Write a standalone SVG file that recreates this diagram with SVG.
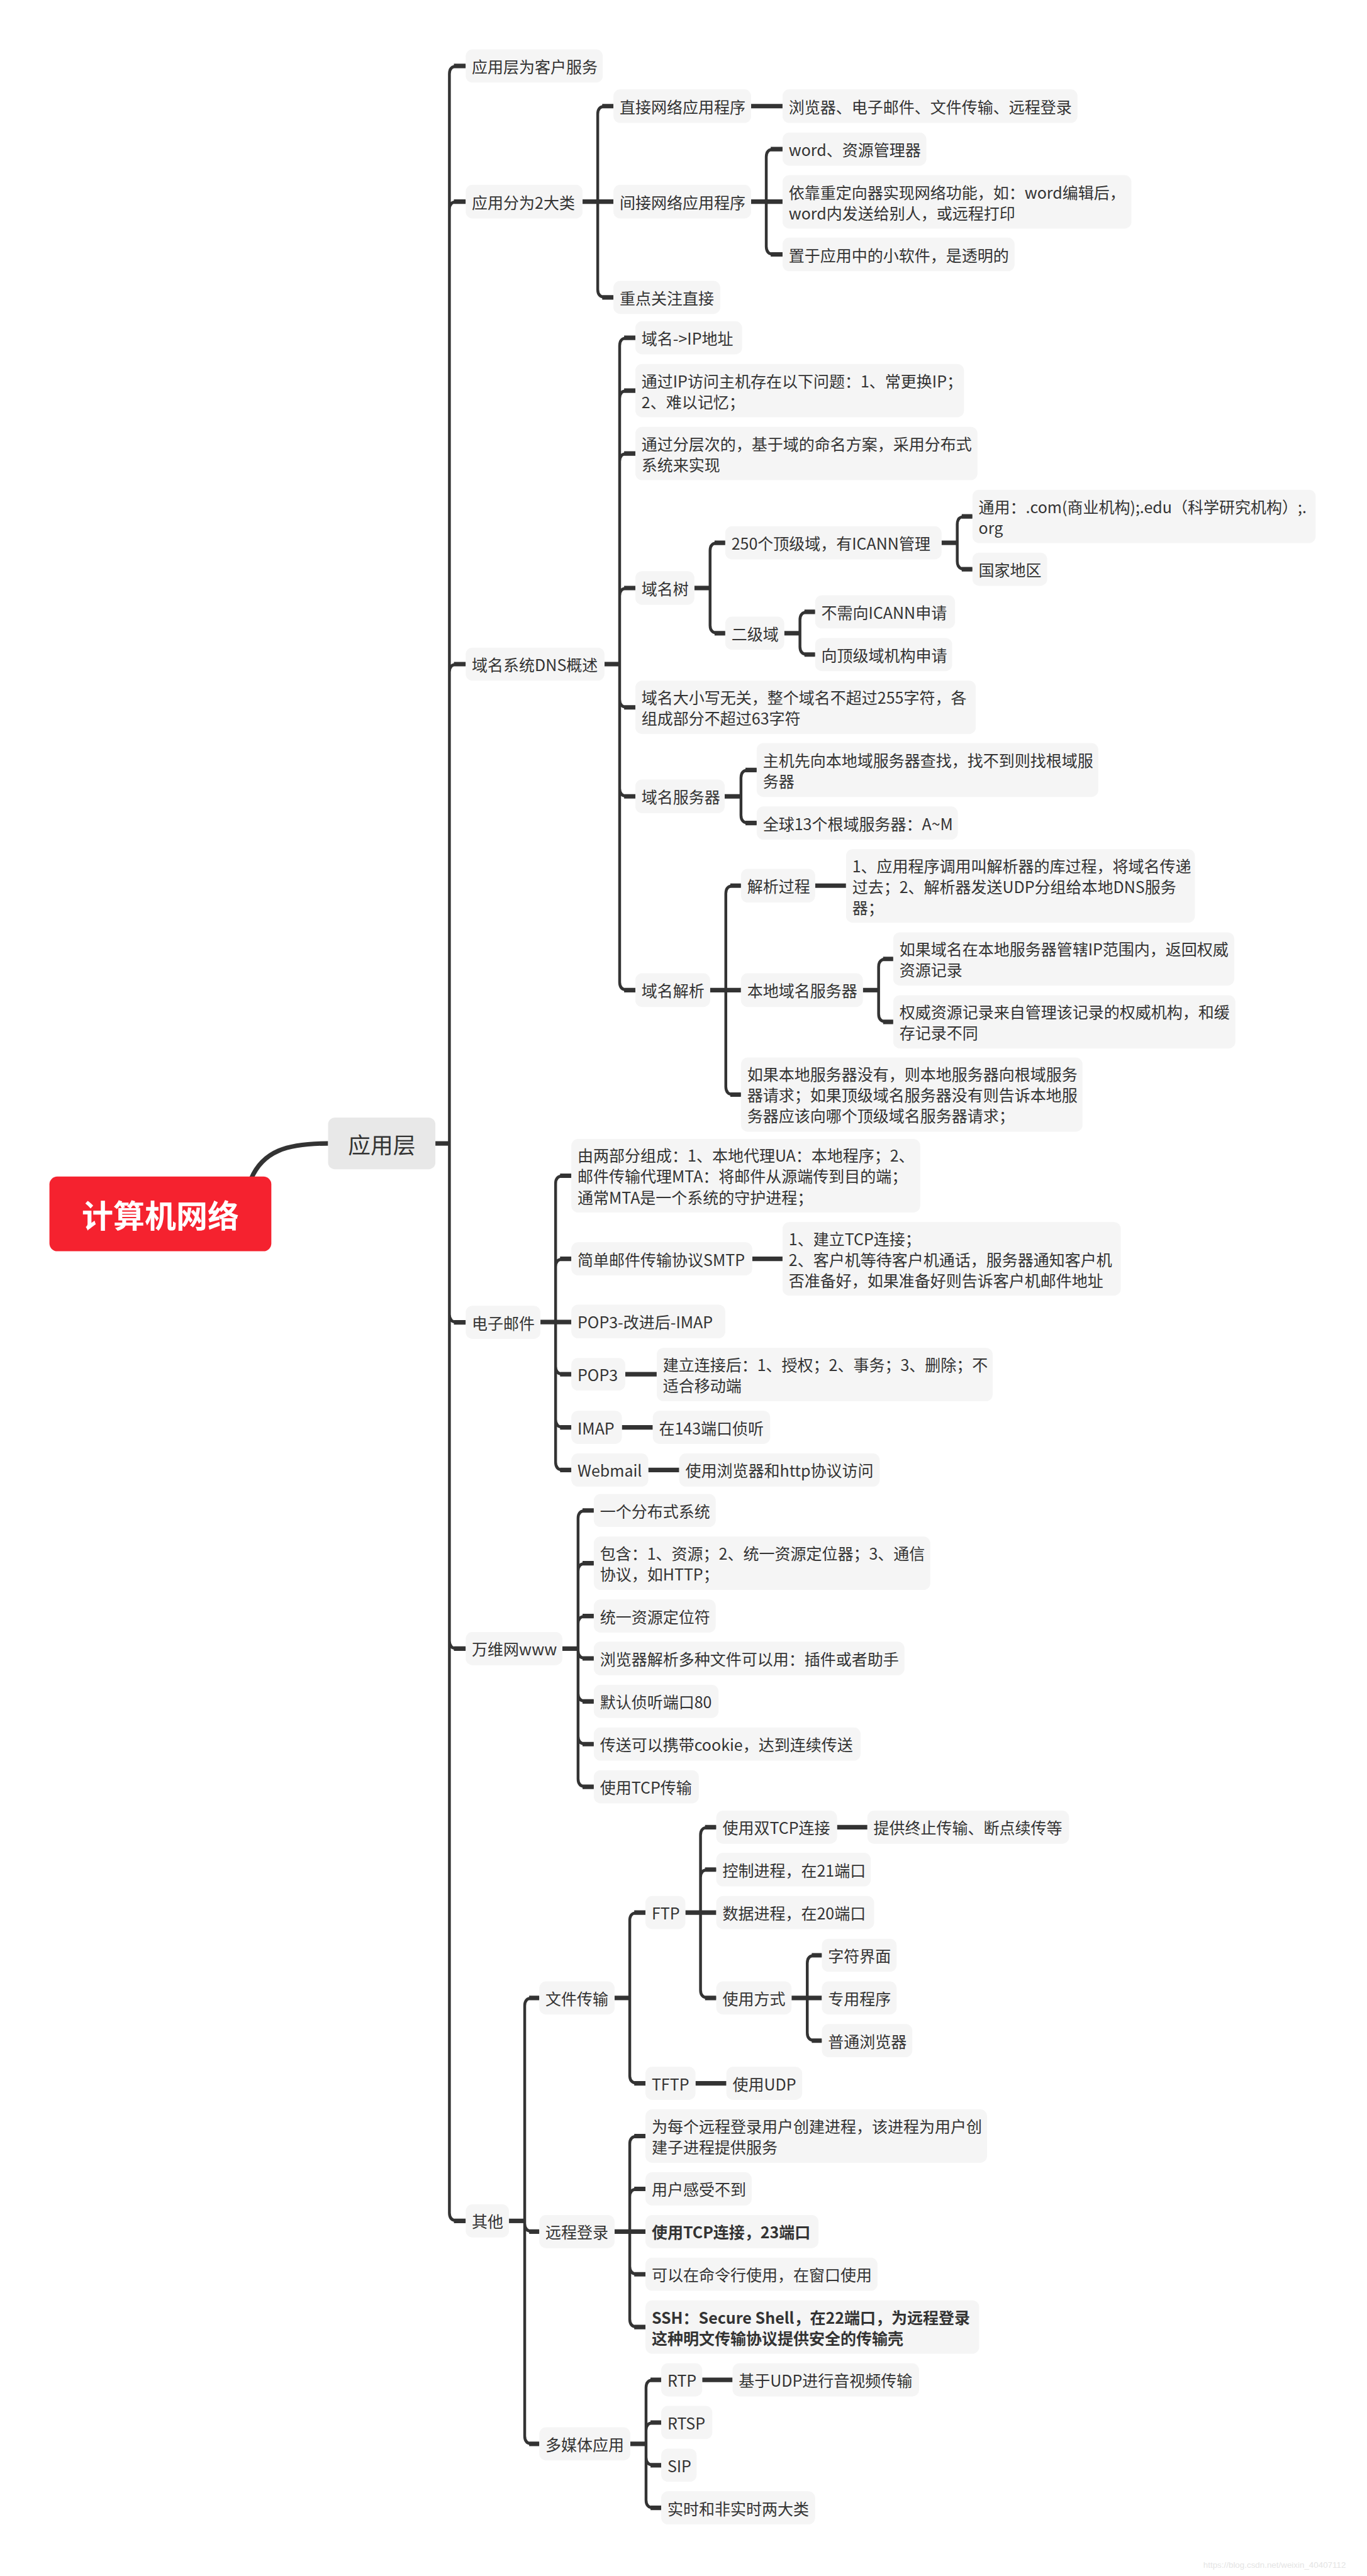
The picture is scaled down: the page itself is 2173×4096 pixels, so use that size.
<svg xmlns="http://www.w3.org/2000/svg" width="2173" height="4096" viewBox="0 0 2173 4096">
<style>
.n{fill:#f5f5f5}
.t{font-family:"Noto Sans CJK SC","Noto Sans",sans-serif;font-size:28px;fill:#333;dominant-baseline:central}
.b{font-weight:bold}
.c path{fill:none;stroke:#333;stroke-width:5;stroke-linecap:butt}
.c .s{stroke-width:8}
</style>
<rect width="2173" height="4096" fill="#fff"/>
<g transform="scale(0.893)">
<g id="connectors" class="c">
<path class="s" d="M447 2099 C468 2050 510 2036 584 2036"/>
<path class="s" d="M775 2036 H800"/>
<path d="M800 2036 V131.5 Q800 117.5 814 117.5 H829 M800 2036 V373 Q800 359 814 359 H829 M800 2036 V1196.5 Q800 1182.5 814 1182.5 H829 M800 2036 V2340.5 Q800 2354.5 814 2354.5 H829 M800 2036 V2921.5 Q800 2935.5 814 2935.5 H829 M800 2036 V3940.5 Q800 3954.5 814 3954.5 H829"/>
<path class="s" d="M808 117.5 H829 M808 359 H829 M808 1182.5 H829 M808 2354.5 H829 M808 2935.5 H829 M808 3954.5 H829"/>
<path class="s" d="M1037 359 H1092 M1337 189 H1393 M1337 359 H1393"/>
<path d="M1064 359 V203 Q1064 189 1078 189 H1092 M1064 359 V515.5 Q1064 529.5 1078 529.5 H1092"/>
<path class="s" d="M1072 189 H1092 M1072 529.5 H1092"/>
<path d="M1364 359 V279.5 Q1364 265.5 1378 265.5 H1393 M1364 359 V439 Q1364 453 1378 453 H1393"/>
<path class="s" d="M1372 265.5 H1393 M1372 453 H1393"/>
<path class="s" d="M1076 1182.5 H1103"/>
<path d="M1103 1182.5 V615.5 Q1103 601.5 1117 601.5 H1131 M1103 1182.5 V709.5 Q1103 695.5 1117 695.5 H1131 M1103 1182.5 V821.5 Q1103 807.5 1117 807.5 H1131 M1103 1182.5 V1061 Q1103 1047 1117 1047 H1131 M1103 1182.5 V1245.5 Q1103 1259.5 1117 1259.5 H1131 M1103 1182.5 V1404 Q1103 1418 1117 1418 H1131 M1103 1182.5 V1749 Q1103 1763 1117 1763 H1131"/>
<path class="s" d="M1111 601.5 H1131 M1111 695.5 H1131 M1111 807.5 H1131 M1111 1047 H1131 M1111 1259.5 H1131 M1111 1418 H1131 M1111 1763 H1131"/>
<path class="s" d="M1236 1047 H1264"/>
<path d="M1264 1047 V980.5 Q1264 966.5 1278 966.5 H1291 M1264 1047 V1113.5 Q1264 1127.5 1278 1127.5 H1291"/>
<path class="s" d="M1272 966.5 H1291 M1272 1127.5 H1291"/>
<path class="s" d="M1676 966.5 H1704"/>
<path d="M1704 966.5 V933.5 Q1704 919.5 1718 919.5 H1731 M1704 966.5 V999.5 Q1704 1013.5 1718 1013.5 H1731"/>
<path class="s" d="M1712 919.5 H1731 M1712 1013.5 H1731"/>
<path class="s" d="M1396 1127.5 H1424"/>
<path d="M1424 1127.5 V1103.5 Q1424 1089.5 1438 1089.5 H1451 M1424 1127.5 V1151.5 Q1424 1165.5 1438 1165.5 H1451"/>
<path class="s" d="M1432 1089.5 H1451 M1432 1165.5 H1451"/>
<path class="s" d="M1290 1418 H1319"/>
<path d="M1319 1418 V1385 Q1319 1371 1333 1371 H1347 M1319 1418 V1451.5 Q1319 1465.5 1333 1465.5 H1347"/>
<path class="s" d="M1327 1371 H1347 M1327 1465.5 H1347"/>
<path class="s" d="M1264 1763 H1319 M1451 1577 H1506"/>
<path d="M1292 1763 V1591 Q1292 1577 1306 1577 H1319 M1292 1763 V1935 Q1292 1949 1306 1949 H1319"/>
<path class="s" d="M1300 1577 H1319 M1300 1949 H1319"/>
<path class="s" d="M1536 1763 H1564"/>
<path d="M1564 1763 V1721.5 Q1564 1707.5 1578 1707.5 H1590 M1564 1763 V1805.5 Q1564 1819.5 1578 1819.5 H1590"/>
<path class="s" d="M1572 1707.5 H1590 M1572 1819.5 H1590"/>
<path class="s" d="M962 2354 H1017"/>
<path d="M989 2354 V2107.5 Q989 2093.5 1003 2093.5 H1017 M989 2354 V2255.5 Q989 2241.5 1003 2241.5 H1017 M989 2354 V2433 Q989 2447 1003 2447 H1017 M989 2354 V2527.5 Q989 2541.5 1003 2541.5 H1017 M989 2354 V2603.5 Q989 2617.5 1003 2617.5 H1017"/>
<path class="s" d="M997 2093.5 H1017 M997 2241.5 H1017 M997 2447 H1017 M997 2541.5 H1017 M997 2617.5 H1017"/>
<path class="s" d="M1339 2241.5 H1393 M1113 2447 H1169 M1107 2541.5 H1162 M1154 2617.5 H1209"/>
<path class="s" d="M1001 2935.5 H1029"/>
<path d="M1029 2935.5 V2703.5 Q1029 2689.5 1043 2689.5 H1057 M1029 2935.5 V2797.5 Q1029 2783.5 1043 2783.5 H1057 M1029 2935.5 V2891.5 Q1029 2877.5 1043 2877.5 H1057 M1029 2935.5 V2939 Q1029 2953 1043 2953 H1057 M1029 2935.5 V3015.5 Q1029 3029.5 1043 3029.5 H1057 M1029 2935.5 V3091.5 Q1029 3105.5 1043 3105.5 H1057 M1029 2935.5 V3167.5 Q1029 3181.5 1043 3181.5 H1057"/>
<path class="s" d="M1037 2689.5 H1057 M1037 2783.5 H1057 M1037 2877.5 H1057 M1037 2953 H1057 M1037 3029.5 H1057 M1037 3105.5 H1057 M1037 3181.5 H1057"/>
<path class="s" d="M906 3954.5 H934"/>
<path d="M934 3954.5 V3571.5 Q934 3557.5 948 3557.5 H960 M934 3954.5 V3959.5 Q934 3973.5 948 3973.5 H960 M934 3954.5 V4337.5 Q934 4351.5 948 4351.5 H960"/>
<path class="s" d="M942 3557.5 H960 M942 3973.5 H960 M942 4351.5 H960"/>
<path class="s" d="M1094 3557.5 H1121"/>
<path d="M1121 3557.5 V3419.5 Q1121 3405.5 1135 3405.5 H1149 M1121 3557.5 V3695.5 Q1121 3709.5 1135 3709.5 H1149"/>
<path class="s" d="M1129 3405.5 H1149 M1129 3709.5 H1149"/>
<path class="s" d="M1220 3405.5 H1275 M1490 3253.5 H1544 M1409 3557.5 H1463 M1238 3709.5 H1293"/>
<path d="M1247 3405.5 V3267.5 Q1247 3253.5 1261 3253.5 H1275 M1247 3405.5 V3343 Q1247 3329 1261 3329 H1275 M1247 3405.5 V3543.5 Q1247 3557.5 1261 3557.5 H1275"/>
<path class="s" d="M1255 3253.5 H1275 M1255 3329 H1275 M1255 3557.5 H1275"/>
<path d="M1437 3557.5 V3495.5 Q1437 3481.5 1451 3481.5 H1463 M1437 3557.5 V3619.5 Q1437 3633.5 1451 3633.5 H1463"/>
<path class="s" d="M1445 3481.5 H1463 M1445 3633.5 H1463"/>
<path class="s" d="M1094 3973.5 H1149"/>
<path d="M1121 3973.5 V3817.5 Q1121 3803.5 1135 3803.5 H1149 M1121 3973.5 V3911.5 Q1121 3897.5 1135 3897.5 H1149 M1121 3973.5 V4035.5 Q1121 4049.5 1135 4049.5 H1149 M1121 3973.5 V4129.5 Q1121 4143.5 1135 4143.5 H1149"/>
<path class="s" d="M1129 3803.5 H1149 M1129 3897.5 H1149 M1129 4049.5 H1149 M1129 4143.5 H1149"/>
<path class="s" d="M1122 4351.5 H1150 M1250 4237.5 H1304"/>
<path d="M1150 4351.5 V4251.5 Q1150 4237.5 1164 4237.5 H1177 M1150 4351.5 V4327.5 Q1150 4313.5 1164 4313.5 H1177 M1150 4351.5 V4375.5 Q1150 4389.5 1164 4389.5 H1177 M1150 4351.5 V4451.5 Q1150 4465.5 1164 4465.5 H1177"/>
<path class="s" d="M1158 4237.5 H1177 M1158 4313.5 H1177 M1158 4389.5 H1177 M1158 4465.5 H1177"/>
</g>

<g id="root"><rect x="88" y="2095" width="395" height="133" rx="14" fill="#f5222f"/><text x="285.5" y="2161.5" text-anchor="middle" dominant-baseline="central" font-family="Noto Sans CJK SC, sans-serif" font-size="56" font-weight="bold" fill="#fff">计算机网络</text></g>
<g id="app"><rect x="584" y="1990" width="191" height="92" rx="12" fill="#e8e8e8"/><text x="679.5" y="2036" text-anchor="middle" dominant-baseline="central" font-family="Noto Sans CJK SC, sans-serif" font-size="40" fill="#333">应用层</text></g>

<g id="n1"><rect class="n" x="829" y="88" width="244" height="59" rx="12"/><text class="t" x="840" y="117.5">应用层为客户服务</text></g>
<g id="n2"><rect class="n" x="829" y="329" width="208" height="60" rx="12"/><text class="t" x="840" y="359">应用分为2大类</text></g>
<g id="n2a"><rect class="n" x="1092" y="159" width="245" height="60" rx="12"/><text class="t" x="1103" y="189">直接网络应用程序</text></g>
<g id="n2a1"><rect class="n" x="1393" y="159" width="525" height="60" rx="12"/><text class="t" x="1404" y="189">浏览器、电子邮件、文件传输、远程登录</text></g>
<g id="n2b"><rect class="n" x="1092" y="329" width="245" height="60" rx="12"/><text class="t" x="1103" y="359">间接网络应用程序</text></g>
<g id="n2b1"><rect class="n" x="1393" y="236" width="256" height="59" rx="12"/><text class="t" x="1404" y="265.5">word、资源管理器</text></g>
<g id="n2b2"><rect class="n" x="1393" y="312" width="621" height="95" rx="12"/><text class="t"><tspan x="1404" y="341">依靠重定向器实现网络功能，如：word编辑后，</tspan><tspan x="1404" y="378">word内发送给别人，或远程打印</tspan></text></g>
<g id="n2b3"><rect class="n" x="1393" y="423" width="413" height="60" rx="12"/><text class="t" x="1404" y="453">置于应用中的小软件，是透明的</text></g>
<g id="n2c"><rect class="n" x="1092" y="500" width="190" height="59" rx="12"/><text class="t" x="1103" y="529.5">重点关注直接</text></g>

<g id="n3"><rect class="n" x="829" y="1153" width="247" height="59" rx="12"/><text class="t" x="840" y="1182.5">域名系统DNS概述</text></g>
<g id="n3a"><rect class="n" x="1131" y="572" width="190" height="59" rx="12"/><text class="t" x="1142" y="601.5">域名-&gt;IP地址</text></g>
<g id="n3b"><rect class="n" x="1131" y="648" width="585" height="95" rx="12"/><text class="t"><tspan x="1142" y="677">通过IP访问主机存在以下问题：1、常更换IP；</tspan><tspan x="1142" y="714">2、难以记忆；</tspan></text></g>
<g id="n3c"><rect class="n" x="1131" y="760" width="609" height="95" rx="12"/><text class="t"><tspan x="1142" y="789">通过分层次的，基于域的命名方案，采用分布式</tspan><tspan x="1142" y="826">系统来实现</tspan></text></g>
<g id="n3d"><rect class="n" x="1131" y="1017" width="105" height="60" rx="12"/><text class="t" x="1142" y="1047">域名树</text></g>
<g id="n3d1"><rect class="n" x="1291" y="937" width="385" height="59" rx="12"/><text class="t" x="1302" y="966.5">250个顶级域，有ICANN管理</text></g>
<g id="n3d1a"><rect class="n" x="1731" y="872" width="611" height="95" rx="12"/><text class="t"><tspan x="1742" y="901">通用：.com(商业机构);.edu（科学研究机构）;.</tspan><tspan x="1742" y="938">org</tspan></text></g>
<g id="n3d1b"><rect class="n" x="1731" y="984" width="133" height="59" rx="12"/><text class="t" x="1742" y="1013.5">国家地区</text></g>
<g id="n3d2"><rect class="n" x="1291" y="1098" width="105" height="59" rx="12"/><text class="t" x="1302" y="1127.5">二级域</text></g>
<g id="n3d2a"><rect class="n" x="1451" y="1060" width="249" height="59" rx="12"/><text class="t" x="1462" y="1089.5">不需向ICANN申请</text></g>
<g id="n3d2b"><rect class="n" x="1451" y="1136" width="244" height="59" rx="12"/><text class="t" x="1462" y="1165.5">向顶级域机构申请</text></g>
<g id="n3e"><rect class="n" x="1131" y="1212" width="606" height="95" rx="12"/><text class="t"><tspan x="1142" y="1241">域名大小写无关，整个域名不超过255字符，各</tspan><tspan x="1142" y="1278">组成部分不超过63字符</tspan></text></g>
<g id="n3f"><rect class="n" x="1131" y="1388" width="159" height="60" rx="12"/><text class="t" x="1142" y="1418">域名服务器</text></g>
<g id="n3f1"><rect class="n" x="1347" y="1323" width="608" height="96" rx="12"/><text class="t"><tspan x="1358" y="1352.5">主机先向本地域服务器查找，找不到则找根域服</tspan><tspan x="1358" y="1389.5">务器</tspan></text></g>
<g id="n3f2"><rect class="n" x="1347" y="1436" width="358" height="59" rx="12"/><text class="t" x="1358" y="1465.5">全球13个根域服务器：A~M</text></g>
<g id="n3g"><rect class="n" x="1131" y="1733" width="133" height="60" rx="12"/><text class="t" x="1142" y="1763">域名解析</text></g>
<g id="n3g1"><rect class="n" x="1319" y="1547" width="132" height="60" rx="12"/><text class="t" x="1330" y="1577">解析过程</text></g>
<g id="n3g1a"><rect class="n" x="1506" y="1512" width="621" height="131" rx="12"/><text class="t"><tspan x="1517" y="1540.5">1、应用程序调用叫解析器的库过程，将域名传递</tspan><tspan x="1517" y="1577.5">过去；2、解析器发送UDP分组给本地DNS服务</tspan><tspan x="1517" y="1614.5">器；</tspan></text></g>
<g id="n3g2"><rect class="n" x="1319" y="1733" width="217" height="60" rx="12"/><text class="t" x="1330" y="1763">本地域名服务器</text></g>
<g id="n3g2a"><rect class="n" x="1590" y="1660" width="607" height="95" rx="12"/><text class="t"><tspan x="1601" y="1689">如果域名在本地服务器管辖IP范围内，返回权威</tspan><tspan x="1601" y="1726">资源记录</tspan></text></g>
<g id="n3g2b"><rect class="n" x="1590" y="1772" width="609" height="95" rx="12"/><text class="t"><tspan x="1601" y="1801">权威资源记录来自管理该记录的权威机构，和缓</tspan><tspan x="1601" y="1838">存记录不同</tspan></text></g>
<g id="n3g3"><rect class="n" x="1319" y="1883" width="608" height="132" rx="12"/><text class="t"><tspan x="1330" y="1912">如果本地服务器没有，则本地服务器向根域服务</tspan><tspan x="1330" y="1949">器请求；如果顶级域名服务器没有则告诉本地服</tspan><tspan x="1330" y="1986">务器应该向哪个顶级域名服务器请求；</tspan></text></g>

<g id="n4"><rect class="n" x="829" y="2325" width="133" height="59" rx="12"/><text class="t" x="840" y="2354.5">电子邮件</text></g>
<g id="n4a"><rect class="n" x="1017" y="2028" width="621" height="131" rx="12"/><text class="t"><tspan x="1028" y="2056.5">由两部分组成：1、本地代理UA：本地程序；2、</tspan><tspan x="1028" y="2093.5">邮件传输代理MTA：将邮件从源端传到目的端；</tspan><tspan x="1028" y="2130.5">通常MTA是一个系统的守护进程；</tspan></text></g>
<g id="n4b"><rect class="n" x="1017" y="2212" width="322" height="59" rx="12"/><text class="t" x="1028" y="2241.5">简单邮件传输协议SMTP</text></g>
<g id="n4b1"><rect class="n" x="1393" y="2176" width="602" height="131" rx="12"/><text class="t"><tspan x="1404" y="2204.5">1、建立TCP连接；</tspan><tspan x="1404" y="2241.5">2、客户机等待客户机通话，服务器通知客户机</tspan><tspan x="1404" y="2278.5">否准备好，如果准备好则告诉客户机邮件地址</tspan></text></g>
<g id="n4c"><rect class="n" x="1017" y="2323" width="274" height="60" rx="12"/><text class="t" x="1028" y="2353">POP3-改进后-IMAP</text></g>
<g id="n4d"><rect class="n" x="1017" y="2418" width="96" height="58" rx="12"/><text class="t" x="1028" y="2447">POP3</text></g>
<g id="n4d1"><rect class="n" x="1169" y="2400" width="598" height="95" rx="12"/><text class="t"><tspan x="1180" y="2429">建立连接后：1、授权；2、事务；3、删除；不</tspan><tspan x="1180" y="2466">适合移动端</tspan></text></g>
<g id="n4e"><rect class="n" x="1017" y="2512" width="90" height="59" rx="12"/><text class="t" x="1028" y="2541.5">IMAP</text></g>
<g id="n4e1"><rect class="n" x="1162" y="2512" width="209" height="59" rx="12"/><text class="t" x="1173" y="2541.5">在143端口侦听</text></g>
<g id="n4f"><rect class="n" x="1017" y="2588" width="137" height="59" rx="12"/><text class="t" x="1028" y="2617.5">Webmail</text></g>
<g id="n4f1"><rect class="n" x="1209" y="2588" width="357" height="59" rx="12"/><text class="t" x="1220" y="2617.5">使用浏览器和http协议访问</text></g>

<g id="n5"><rect class="n" x="829" y="2906" width="172" height="59" rx="12"/><text class="t" x="840" y="2935.5">万维网www</text></g>
<g id="n5a"><rect class="n" x="1057" y="2660" width="217" height="59" rx="12"/><text class="t" x="1068" y="2689.5">一个分布式系统</text></g>
<g id="n5b"><rect class="n" x="1057" y="2736" width="599" height="95" rx="12"/><text class="t"><tspan x="1068" y="2765">包含：1、资源；2、统一资源定位器；3、通信</tspan><tspan x="1068" y="2802">协议，如HTTP；</tspan></text></g>
<g id="n5c"><rect class="n" x="1057" y="2848" width="217" height="59" rx="12"/><text class="t" x="1068" y="2877.5">统一资源定位符</text></g>
<g id="n5d"><rect class="n" x="1057" y="2923" width="553" height="60" rx="12"/><text class="t" x="1068" y="2953">浏览器解析多种文件可以用：插件或者助手</text></g>
<g id="n5e"><rect class="n" x="1057" y="3000" width="222" height="59" rx="12"/><text class="t" x="1068" y="3029.5">默认侦听端口80</text></g>
<g id="n5f"><rect class="n" x="1057" y="3076" width="475" height="59" rx="12"/><text class="t" x="1068" y="3105.5">传送可以携带cookie，达到连续传送</text></g>
<g id="n5g"><rect class="n" x="1057" y="3152" width="187" height="59" rx="12"/><text class="t" x="1068" y="3181.5">使用TCP传输</text></g>

<g id="n6"><rect class="n" x="829" y="3925" width="77" height="59" rx="12"/><text class="t" x="840" y="3954.5">其他</text></g>
<g id="n6a"><rect class="n" x="960" y="3528" width="134" height="59" rx="12"/><text class="t" x="971" y="3557.5">文件传输</text></g>
<g id="n6a1"><rect class="n" x="1149" y="3376" width="71" height="59" rx="12"/><text class="t" x="1160" y="3405.5">FTP</text></g>
<g id="n6a1a"><rect class="n" x="1275" y="3224" width="215" height="59" rx="12"/><text class="t" x="1286" y="3253.5">使用双TCP连接</text></g>
<g id="n6a1a1"><rect class="n" x="1544" y="3224" width="359" height="59" rx="12"/><text class="t" x="1555" y="3253.5">提供终止传输、断点续传等</text></g>
<g id="n6a1b"><rect class="n" x="1275" y="3299" width="275" height="60" rx="12"/><text class="t" x="1286" y="3329">控制进程，在21端口</text></g>
<g id="n6a1c"><rect class="n" x="1275" y="3376" width="281" height="59" rx="12"/><text class="t" x="1286" y="3405.5">数据进程，在20端口</text></g>
<g id="n6a1d"><rect class="n" x="1275" y="3528" width="134" height="59" rx="12"/><text class="t" x="1286" y="3557.5">使用方式</text></g>
<g id="n6a1d1"><rect class="n" x="1463" y="3452" width="133" height="59" rx="12"/><text class="t" x="1474" y="3481.5">字符界面</text></g>
<g id="n6a1d2"><rect class="n" x="1463" y="3528" width="133" height="59" rx="12"/><text class="t" x="1474" y="3557.5">专用程序</text></g>
<g id="n6a1d3"><rect class="n" x="1463" y="3604" width="161" height="59" rx="12"/><text class="t" x="1474" y="3633.5">普通浏览器</text></g>
<g id="n6a2"><rect class="n" x="1149" y="3680" width="89" height="59" rx="12"/><text class="t" x="1160" y="3709.5">TFTP</text></g>
<g id="n6a2a"><rect class="n" x="1293" y="3680" width="135" height="59" rx="12"/><text class="t" x="1304" y="3709.5">使用UDP</text></g>
<g id="n6b"><rect class="n" x="960" y="3944" width="134" height="59" rx="12"/><text class="t" x="971" y="3973.5">远程登录</text></g>
<g id="n6b1"><rect class="n" x="1149" y="3756" width="608" height="95" rx="12"/><text class="t"><tspan x="1160" y="3785">为每个远程登录用户创建进程，该进程为用户创</tspan><tspan x="1160" y="3822">建子进程提供服务</tspan></text></g>
<g id="n6b2"><rect class="n" x="1149" y="3868" width="189" height="59" rx="12"/><text class="t" x="1160" y="3897.5">用户感受不到</text></g>
<g id="n6b3"><rect class="n" x="1149" y="3944" width="308" height="59" rx="12"/><text class="t b" x="1160" y="3973.5">使用TCP连接，23端口</text></g>
<g id="n6b4"><rect class="n" x="1149" y="4020" width="413" height="59" rx="12"/><text class="t" x="1160" y="4049.5">可以在命令行使用，在窗口使用</text></g>
<g id="n6b5"><rect class="n" x="1149" y="4096" width="594" height="95" rx="12"/><text class="t b"><tspan x="1160" y="4125">SSH：Secure Shell，在22端口，为远程登录</tspan><tspan x="1160" y="4162">这种明文传输协议提供安全的传输壳</tspan></text></g>
<g id="n6c"><rect class="n" x="960" y="4322" width="162" height="59" rx="12"/><text class="t" x="971" y="4351.5">多媒体应用</text></g>
<g id="n6c1"><rect class="n" x="1177" y="4208" width="73" height="59" rx="12"/><text class="t" x="1188" y="4237.5">RTP</text></g>
<g id="n6c1a"><rect class="n" x="1304" y="4208" width="332" height="59" rx="12"/><text class="t" x="1315" y="4237.5">基于UDP进行音视频传输</text></g>
<g id="n6c2"><rect class="n" x="1177" y="4284" width="91" height="59" rx="12"/><text class="t" x="1188" y="4313.5">RTSP</text></g>
<g id="n6c3"><rect class="n" x="1177" y="4360" width="63" height="59" rx="12"/><text class="t" x="1188" y="4389.5">SIP</text></g>
<g id="n6c4"><rect class="n" x="1177" y="4436" width="274" height="59" rx="12"/><text class="t" x="1188" y="4465.5">实时和非实时两大类</text></g>

<text x="2142" y="4572" font-family="Liberation Sans, sans-serif" font-size="15" fill="#e4e4e4">https://blog.csdn.net/weixin_40407112</text>
</g>
</svg>
